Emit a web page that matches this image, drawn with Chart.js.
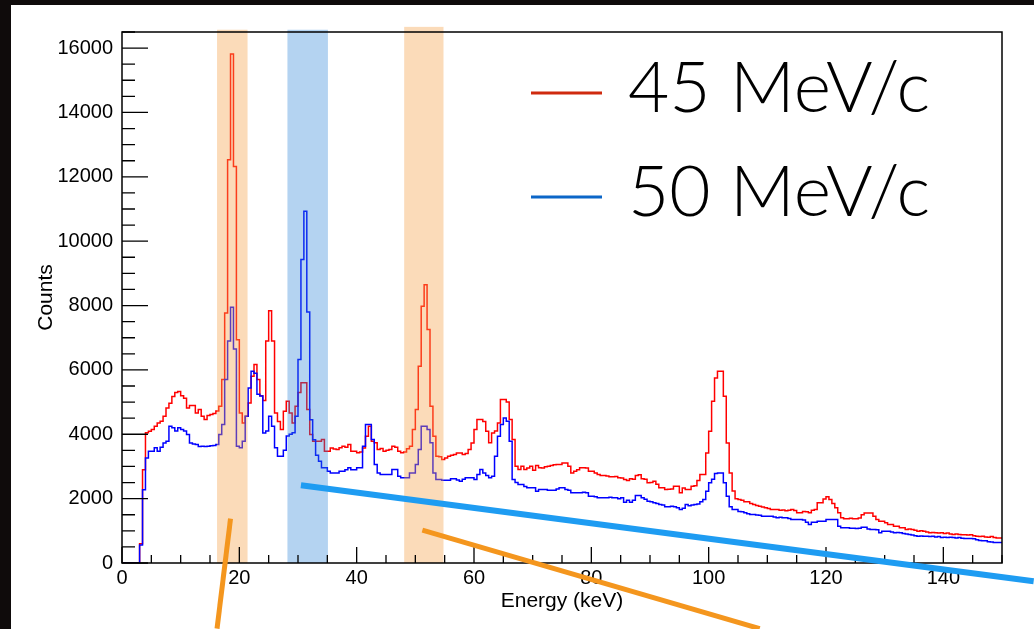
<!DOCTYPE html>
<html>
<head>
<meta charset="utf-8">
<script src="https://cdn.jsdelivr.net/npm/chart.js@4.4.1/dist/chart.umd.min.js"></script>
<style>
html,body{margin:0;padding:0;background:#0f0b0b;overflow:hidden}
canvas{display:block}
</style>
</head>
<body>
<canvas id="c" width="1034" height="629"></canvas>
<script>
// ---------------- data ----------------
const BIN_WIDTH = 0.5;          // keV per histogram bin
const ENERGY_MIN = 0;
const ENERGY_MAX = 150;
const COUNTS_MAX = 16500;
const SERIES_LABELS = ['45 MeV/c', '50 MeV/c'];

// counts per 0.5 keV bin, 45 MeV/c
const counts45 = [
0,0,0,0,0,0,0,600,2900,4050, 4094,4147,4250,4354,4406,4560,4820,4966,5173,5297,
5330,5194,5120,4820,4892,4892,4664,4768,4560,4457, 4580,4612,4643,4720,4870,5700,7770,12530,15815,12324,
6940,4664,4354,4560,4970,5800,6170,5700,5200,5050, 6900,7840,6900,4660,4400,4150,4716,5026,4664,4354,
4870,5300,5600,5600,4768,3990,3783,3783,3783,3835, 3473,3473,3577,3540,3525,3580,3628,3600,3680,3473,
3473,3422,3450,3577,3940,4250,3783,3733,3525,3560, 3473,3500,3525,3628,3600,3473,3422,3450,3550,3628,
4147,4768,6110,7977,8650,7253,4870,3940,3318,3300, 3215,3260,3318,3350,3370,3420,3420,3370,3400,3525,
3730,4147,4457,4457,4400,4095,3733,4043,4100,4354, 5078,5078,5000,4457,3835,3008,2905,3008,2905,2950,
3008,2880,3030,2960,2950,2990,3010,3030,3050,3060, 3060,3111,3111,3008,2800,2850,2900,2956,2956,2950,
2853,2853,2800,2750,2718,2718,2700,2680,2677,2690, 2650,2640,2594,2560,2620,2600,2718,2740,2620,2600,
2490,2500,2540,2450,2335,2335,2284,2290,2300,2387, 2387,2180,2330,2284,2284,2387,2400,2563,2750,2750,
3421,4094,5026,5750,5958,5958,5180,3732,2800,2235, 2000,1972,1950,1900,1900,1850,1818,1790,1766,1740,
1714,1690,1663,1663,1663,1640,1650,1620,1640,1660, 1630,1560,1560,1600,1590,1560,1640,1663,1870,1870,
1990,2056,1972,1850,1714,1560,1405,1373,1373,1390, 1373,1373,1400,1498,1550,1550,1550,1450,1350,1300,
1300,1250,1196,1196,1145,1145,1093,1093,1042,1060, 1042,1020,990,1000,990,960,939,950,939,930,
939,920,930,900,887,900,887,880,880,870, 880,850,830,820,830,810,800,820,790,780
];

// counts per 0.5 keV bin, 50 MeV/c
const counts50 = [
0,0,0,0,0,0,0,560,2280,3260, 3470,3470,3580,3470,3600,3730,3780,4250,4200,4100,
4200,4150,4100,3990,3730,3700,3680,3620,3630,3620, 3630,3640,3650,3680,3990,4300,5700,6900,7950,6650,
3630,3580,3780,4560,5440,5960,5900,5240,5190,4040, 4100,4560,4250,3580,3320,3320,3500,3950,4000,4050,
4560,6320,9430,10930,7800,4450,3830,3350,3160,2960, 2960,2850,2800,2800,2800,2850,2850,2900,2960,2900,
2900,2960,2956,3628,4302,4302,3835,3060,2800,2750, 2750,2750,2750,2905,2905,2698,2646,2646,2646,2800,
2800,3060,3525,4250,4250,4147,3733,2800,2594,2594, 2574,2574,2574,2615,2615,2580,2543,2600,2646,2646,
2646,2594,2750,2905,2800,2720,2646,2698,3318,3940, 4300,4509,4406,3783,2594,2500,2440,2440,2380,2336,
2335,2335,2232,2284,2284,2284,2260,2260,2260,2300, 2335,2335,2284,2260,2180,2180,2180,2180,2200,2180,
2077,2077,2060,2025,2025,2025,2025,2040,2025,2025, 2000,2025,1890,1950,1890,1950,2100,2100,2025,1980,
1921,1900,1870,1850,1818,1800,1745,1745,1760,1745, 1720,1663,1700,1820,1780,1800,1818,1830,1900,1973,
2232,2490,2600,2780,2800,2800,2490,2077,1750,1663, 1663,1600,1590,1560,1530,1508,1508,1490,1480,1456,
1456,1456,1456,1430,1405,1420,1405,1405,1380,1353, 1353,1353,1353,1340,1270,1196,1270,1270,1300,1300,
1300,1353,1353,1353,1353,1145,1093,1093,1093,1080, 1080,1070,1080,1110,1110,1060,1042,1042,1030,939,
990,990,990,960,939,950,939,920,900,887, 870,850,835,840,835,830,820,830,810,820,
790,800,790,800,790,780,790,770,760,765, 760,750,720,700,690,690,660,650,640,635
];

const X_TICKS = [0, 20, 40, 60, 80, 100, 120, 140];
const Y_TICKS = [0, 2000, 4000, 6000, 8000, 10000, 12000, 14000, 16000];
const X_MINOR_STEP = 5;
const Y_MINOR_STEP = 500;

// highlighted energy windows (keV) and their top (counts)
const BAND_FROM = [16.2, 28.2, 48.1];
const BAND_TO   = [21.4, 35.1, 54.8];
const BAND_TOP  = [16570, 16570, 16660];
const BAND_KIND = ['orange', 'blue', 'orange'];

// pointer strokes (energy keV, counts)
const PTR_X1 = [18.5, 51.2, 30.5];
const PTR_Y1 = [1380, 1020, 2416];
const PTR_X2 = [16.2, 108.7, 155.4];
const PTR_Y2 = [-2040, -2040, -565];
const PTR_KIND = ['orange', 'orange', 'blue'];

// ---------------- build ----------------
function toPoints(arr) {
  const pts = arr.map((v, i) => ({x: ENERGY_MIN + i * BIN_WIDTH, y: v}));
  pts.push({x: ENERGY_MIN + arr.length * BIN_WIDTH, y: arr[arr.length - 1]});
  return pts;
}

const W = 1034, H = 629;
const FONT = '"Liberation Sans", Arial, Helvetica, sans-serif';

const decor = {
  id: 'decor',
  beforeDraw(chart) {
    const ctx = chart.ctx;
    ctx.save();
    ctx.fillStyle = '#0f0b0b';
    ctx.fillRect(0, 0, W, H);
    ctx.fillStyle = '#ffffff';
    ctx.fillRect(11, 5, W - 11, H - 5);
    ctx.restore();
  },
  afterDatasetsDraw(chart) {
    const ctx = chart.ctx, xs = chart.scales.x, ys = chart.scales.y, a = chart.chartArea;
    ctx.save();
    // bands
    for (let i = 0; i < BAND_FROM.length; i++) {
      const x1 = xs.getPixelForValue(BAND_FROM[i]), x2 = xs.getPixelForValue(BAND_TO[i]);
      const yt = ys.getPixelForValue(BAND_TOP[i]), yb = ys.getPixelForValue(0);
      ctx.fillStyle = BAND_KIND[i] === 'orange' ? 'rgba(245,160,70,0.38)' : 'rgba(40,130,215,0.35)';
      ctx.fillRect(x1, yt, x2 - x1, yb - yt);
    }
    // frame
    ctx.strokeStyle = '#000';
    ctx.lineWidth = 1.5;
    ctx.strokeRect(a.left, a.top, a.right - a.left, a.bottom - a.top);
    // ticks (inside frame)
    ctx.lineWidth = 1.3;
    ctx.beginPath();
    for (let v = ENERGY_MIN; v <= ENERGY_MAX; v += X_MINOR_STEP) {
      const px = xs.getPixelForValue(v);
      const len = X_TICKS.includes(v) ? 16 : 8;
      ctx.moveTo(px, a.bottom); ctx.lineTo(px, a.bottom - len);
    }
    for (let v = 0; v <= COUNTS_MAX; v += Y_MINOR_STEP) {
      const py = ys.getPixelForValue(v);
      const len = Y_TICKS.includes(v) ? 26 : 13;
      ctx.moveTo(a.left, py); ctx.lineTo(a.left + len, py);
    }
    ctx.stroke();
    ctx.restore();
  },
  afterDraw(chart) {
    const ctx = chart.ctx, xs = chart.scales.x, ys = chart.scales.y;
    ctx.save();
    // legend
    const legendColors = ['#cf2a0e', '#0b66c8'];
    const lineY = [93, 197];
    const baseY = [112, 216];
    for (let i = 0; i < SERIES_LABELS.length; i++) {
      ctx.strokeStyle = legendColors[i];
      ctx.lineWidth = 3;
      ctx.beginPath(); ctx.moveTo(531, lineY[i]); ctx.lineTo(602, lineY[i]); ctx.stroke();
      ctx.font = '300 70px Lato, "Open Sans", "Noto Sans", sans-serif';
      ctx.fillStyle = '#000';
      ctx.textBaseline = 'alphabetic';
      const w = ctx.measureText(SERIES_LABELS[i]).width;
      const sx = 302 / w;
      ctx.save();
      ctx.translate(628, baseY[i]);
      ctx.scale(sx, 1);
      ctx.fillText(SERIES_LABELS[i], 0, 0);
      ctx.restore();
    }
    // pointer strokes
    ctx.lineCap = 'butt';
    for (let i = 0; i < PTR_X1.length; i++) {
      ctx.strokeStyle = PTR_KIND[i] === 'orange' ? '#f4961e' : '#1e9cf2';
      ctx.lineWidth = PTR_KIND[i] === 'orange' ? 5 : 6;
      ctx.beginPath();
      ctx.moveTo(xs.getPixelForValue(PTR_X1[i]), ys.getPixelForValue(PTR_Y1[i]));
      ctx.lineTo(xs.getPixelForValue(PTR_X2[i]), ys.getPixelForValue(PTR_Y2[i]));
      ctx.stroke();
    }
    ctx.restore();
  }
};

new Chart(document.getElementById('c'), {
  type: 'line',
  data: {
    datasets: [
      {label: SERIES_LABELS[0], data: toPoints(counts45), borderColor: '#ff0000', borderWidth: 1.5,
       pointRadius: 0, stepped: 'after', fill: false, order: 2},
      {label: SERIES_LABELS[1], data: toPoints(counts50), borderColor: '#0000ff', borderWidth: 1.5,
       pointRadius: 0, stepped: 'after', fill: false, order: 1}
    ]
  },
  options: {
    responsive: false,
    animation: false,
    devicePixelRatio: 1,
    parsing: true,
    layout: {padding: {left: 0, top: 32, right: 32, bottom: 0}},
    plugins: {legend: {display: false}, tooltip: {enabled: false}},
    scales: {
      x: {
        type: 'linear', min: ENERGY_MIN, max: ENERGY_MAX,
        afterBuildTicks: s => { s.ticks = X_TICKS.map(v => ({value: v})); },
        afterFit: s => { s.height = 66; },
        grid: {display: false, drawTicks: false},
        border: {display: false},
        ticks: {padding: 3, color: '#000', autoSkip: false, maxRotation: 0,
                font: {family: FONT, size: 20}, callback: v => String(v)},
        title: {display: true, text: 'Energy (keV)', color: '#000',
                font: {family: FONT, size: 21}, padding: {top: 0, bottom: 15}}
      },
      y: {
        type: 'linear', min: 0, max: COUNTS_MAX,
        afterBuildTicks: s => { s.ticks = Y_TICKS.map(v => ({value: v})); },
        afterFit: s => { s.width = 122; },
        grid: {display: false, drawTicks: false},
        border: {display: false},
        ticks: {padding: 9, color: '#000', autoSkip: false,
                font: {family: FONT, size: 20}, callback: v => String(v)},
        title: {display: true, text: 'Counts', color: '#000',
                font: {family: FONT, size: 21}, padding: {top: 34, bottom: 0}}
      }
    }
  },
  plugins: [decor]
});
</script>
</body>
</html>
